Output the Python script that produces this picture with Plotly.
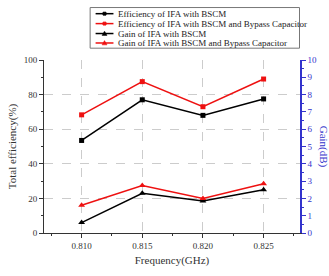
import plotly.graph_objects as go

freq = [0.810, 0.815, 0.820, 0.825]
eff_bscm = [53.5, 77.0, 68.0, 77.5]
eff_bypass = [68.3, 87.5, 73.0, 89.0]
gain_bscm = [0.6, 2.3, 1.85, 2.5]
gain_bypass = [1.6, 2.75, 2.0, 2.85]
x_ticks = [0.810, 0.815, 0.820, 0.825]
x_tick_text = ["0.810", "0.815", "0.820", "0.825"]
series_names = ["Efficiency of IFA with BSCM",
                "Efficiency of IFA with BSCM and Bypass Capacitor",
                "Gain of IFA with BSCM",
                "Gain of IFA with BSCM and Bypass Capacitor"]

FONT = "Liberation Serif"
BLUE = "#3333cc"
RED = "#ee1111"
colors = ["black", RED, "black", RED]
symbols = ["square", "square", "triangle-up", "triangle-up"]

W, H = 329, 276
ML, MR, MT, MB = 42, 29, 60, 33
PW, PH = W - ML - MR, H - MT - MB

fig = go.Figure()
fig.add_trace(go.Scatter(x=freq, y=eff_bscm, name=series_names[0],
                         mode="lines+markers", line=dict(color=colors[0], width=1.5),
                         marker=dict(symbol=symbols[0], size=5, color=colors[0])))
fig.add_trace(go.Scatter(x=freq, y=eff_bypass, name=series_names[1],
                         mode="lines+markers", line=dict(color=colors[1], width=1.5),
                         marker=dict(symbol=symbols[1], size=5, color=colors[1])))
fig.add_trace(go.Scatter(x=freq, y=gain_bscm, name=series_names[2], yaxis="y2",
                         mode="lines+markers", line=dict(color=colors[2], width=1.5),
                         marker=dict(symbol=symbols[2], size=6, color=colors[2])))
fig.add_trace(go.Scatter(x=freq, y=gain_bypass, name=series_names[3], yaxis="y2",
                         mode="lines+markers", line=dict(color=colors[3], width=1.5),
                         marker=dict(symbol=symbols[3], size=6, color=colors[3])))


def px_x(px):
    return (px - ML) / PW


def px_y(py):
    return (H - MB - py) / PH


# custom legend (compact, like the reference)
shapes = [dict(type="rect", xref="paper", yref="paper",
               x0=px_x(88.5), x1=px_x(299.5), y0=px_y(4.5), y1=px_y(47.5),
               line=dict(color="#777777", width=1), fillcolor="white", layer="above")]
annotations = []
item_y = [11, 21.5, 32, 42]
for name, c, s, iy in zip(series_names, colors, symbols, item_y):
    shapes.append(dict(type="line", xref="paper", yref="paper",
                       x0=px_x(94), x1=px_x(112), y0=px_y(iy), y1=px_y(iy),
                       line=dict(color=c, width=1.5), layer="above"))
    if s == "square":
        shapes.append(dict(type="rect", xref="paper", yref="paper",
                           x0=px_x(101.5), x1=px_x(104.5), y0=px_y(iy + 1.5), y1=px_y(iy - 1.5),
                           line=dict(color=c, width=1), fillcolor=c, layer="above"))
    else:
        path = "M {} {} L {} {} L {} {} Z".format(
            px_x(100.5), px_y(iy + 2), px_x(105.5), px_y(iy + 2), px_x(103), px_y(iy - 2.5))
        shapes.append(dict(type="path", xref="paper", yref="paper", path=path,
                           line=dict(color=c, width=0.5), fillcolor=c, layer="above"))
    annotations.append(dict(text=name, xref="paper", yref="paper", x=px_x(114.5), y=px_y(iy),
                            xanchor="left", yanchor="middle", showarrow=False,
                            font=dict(family=FONT, size=9, color="#222222")))

annotations.append(dict(text="Gain(dB)", xref="paper", yref="paper", x=px_x(324), y=0.5,
                        xanchor="center", yanchor="middle",
                        textangle=90, showarrow=False,
                        font=dict(family=FONT, size=11, color=BLUE)))

fig.update_layout(
    width=W, height=H,
    margin=dict(l=ML, r=MR, t=MT, b=MB),
    paper_bgcolor="white", plot_bgcolor="white",
    font=dict(family=FONT, size=9, color="#333333"),
    showlegend=False,
    shapes=shapes,
    annotations=annotations,
    xaxis=dict(range=[0.8069, 0.828], tickvals=x_ticks, ticktext=x_tick_text,
               showgrid=True, gridcolor="#cccccc", griddash="dash", gridwidth=1,
               showline=True, linecolor="#333333", linewidth=1,
               ticks="outside", ticklen=4, tickcolor="#333333",
               minor=dict(ticks="outside", ticklen=2, dtick=0.0025, tick0=0.81, tickcolor="#333333"),
               zeroline=False,
               title=dict(text="Frequency(GHz)", font=dict(family=FONT, size=11, color="#333333"), standoff=6)),
    xaxis2=dict(range=[0.8069, 0.828], overlaying="x", side="top", matches="x",
                tickvals=x_ticks, showticklabels=False, showgrid=False,
                showline=True, linecolor="#333333", linewidth=1,
                ticks="inside", ticklen=4, tickcolor="#333333",
                minor=dict(ticks="inside", ticklen=2, dtick=0.0025, tick0=0.81, tickcolor="#333333"),
                zeroline=False),
    yaxis=dict(range=[0, 100], dtick=20,
               showgrid=True, gridcolor="#cccccc", griddash="dash", gridwidth=1,
               showline=True, linecolor="#333333", linewidth=1,
               ticks="outside", ticklen=4, tickcolor="#333333",
               minor=dict(ticks="outside", ticklen=2, dtick=10, tickcolor="#333333"),
               zeroline=False,
               title=dict(text="Total efficiency(%)", font=dict(family=FONT, size=11, color="#333333"), standoff=4)),
    yaxis2=dict(range=[0, 10], dtick=1, overlaying="y", side="right",
                showgrid=False, showline=True, linecolor=BLUE, linewidth=1.5,
                ticks="outside", ticklen=4, tickcolor=BLUE,
                minor=dict(ticks="outside", ticklen=2, dtick=0.5, tickcolor=BLUE),
                tickfont=dict(color=BLUE, family=FONT, size=9), zeroline=False),
)

fig.write_html("out.html")
